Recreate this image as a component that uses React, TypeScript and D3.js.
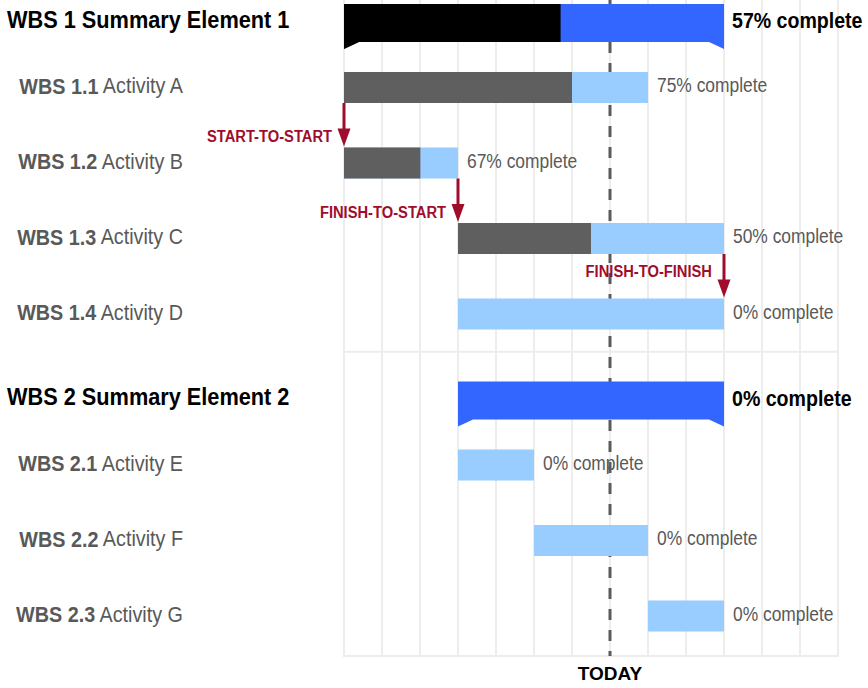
import * as d3 from 'd3';
import type { ReactNode } from 'react';

// rows, top to bottom
const wbsIds = ['WBS 1', 'WBS 1.1', 'WBS 1.2', 'WBS 1.3', 'WBS 1.4', 'WBS 2', 'WBS 2.1', 'WBS 2.2', 'WBS 2.3'];
const taskNames = ['Summary Element 1', 'Activity A', 'Activity B', 'Activity C', 'Activity D', 'Summary Element 2', 'Activity E', 'Activity F', 'Activity G'];
const isSummary = [true, false, false, false, false, true, false, false, false];
const startWeek = [0, 0, 0, 3, 3, 3, 3, 5, 8];
const endWeek = [10, 8, 3, 10, 10, 10, 5, 8, 10];
const pctComplete = [57, 75, 67, 50, 0, 0, 0, 0, 0];

const todayWeek = 7;
const gridWeeks = [0, 1, 2, 3, 4, 5, 6, 7, 8, 9, 10, 11, 12, 13];

// dependencies
const depFrom = ['WBS 1.1', 'WBS 1.2', 'WBS 1.3'];
const depTo = ['WBS 1.2', 'WBS 1.3', 'WBS 1.4'];
const depType = ['START-TO-START', 'FINISH-TO-START', 'FINISH-TO-FINISH'];

const W = 868;
const H = 688;
const FONT = '"Liberation Sans", Arial, sans-serif';

// narrow-ish text: the original uses a condensed grotesque
const CText = ({ x, y, sx = 0.88, anchor = 'start', size, bold, fill, children }: {
  x: number; y: number; sx?: number; anchor?: string; size: number; bold?: boolean; fill: string; children: ReactNode;
}) => (
  <text transform={`translate(${x},${y}) scale(${sx},1)`} textAnchor={anchor} dominantBaseline="central"
    fontSize={size} fontWeight={bold ? 'bold' : 'normal'} fill={fill}>
    {children}
  </text>
);

const App = () => {
  const x = d3.scaleLinear().domain([0, 13]).range([344, 838]);
  const y = d3.scalePoint<string>().domain(wbsIds).range([12, 616]);
  const bottom = (y('WBS 2.3') as number) + 40;
  const facetSplit = ((y('WBS 1.4') as number) + (y('WBS 2') as number)) / 2;

  const rows = wbsIds.map((id, i) => ({
    id,
    name: taskNames[i],
    summary: isSummary[i],
    start: startWeek[i],
    end: endWeek[i],
    pct: pctComplete[i],
    c: y(id) as number,
  }));
  const byId = new Map(rows.map(r => [r.id, r]));

  const barH = 31;
  const summaryShape = (x0: number, x1: number, c: number) => {
    const n = 15;
    return [
      [x0, c - 8], [x1, c - 8], [x1, c + 37], [x1 - n, c + 30], [x0 + n, c + 30], [x0, c + 37],
    ].map(p => p.join(',')).join(' ');
  };
  const clipId = (id: string) => `done-${id.replace(/\W/g, '')}`;

  return (
    <svg width={W} height={H} style={{ position: 'absolute', left: 0, top: 0, background: '#fff' }} fontFamily={FONT}>
      <defs>
        {rows.filter(r => r.summary).map(r => (
          <clipPath id={clipId(r.id)} key={r.id}>
            <rect x={x(r.start) - 1} y={r.c - 20} width={x(r.start + (r.end - r.start) * r.pct / 100) - x(r.start) + 1} height={70} />
          </clipPath>
        ))}
      </defs>

      {/* grid */}
      <g stroke="#ededed" strokeWidth={2}>
        {gridWeeks.map(w => (
          <line key={w} x1={x(w)} x2={x(w)} y1={0} y2={bottom} />
        ))}
        <line x1={x(0) - 1} x2={x(13) + 1} y1={facetSplit} y2={facetSplit} />
        <line x1={x(0) - 1} x2={x(13) + 1} y1={bottom} y2={bottom} />
      </g>

      {/* today */}
      <line x1={x(todayWeek)} x2={x(todayWeek)} y1={0} y2={bottom} stroke="#5b5b5b" strokeWidth={3} strokeDasharray="11 10" />
      <CText x={x(todayWeek)} y={673} anchor="middle" size={19} sx={1} bold fill="#000">TODAY</CText>

      {/* bars */}
      {rows.map(r => {
        const x0 = x(r.start);
        const x1 = x(r.end);
        const xp = x(r.start + (r.end - r.start) * r.pct / 100);
        if (r.summary) {
          const pts = summaryShape(x0, x1, r.c);
          return (
            <g key={r.id}>
              <polygon points={pts} fill="#3366ff" />
              {r.pct > 0 && <polygon points={pts} fill="#000" clipPath={`url(#${clipId(r.id)})`} />}
              <CText x={x1 + 8} y={r.c + 8} size={22.5} sx={0.87} bold fill="#000">{`${r.pct}% complete`}</CText>
              <CText x={7} y={r.c + 8} size={23} sx={0.945} bold fill="#000">{`${r.id} ${r.name}`}</CText>
            </g>
          );
        }
        return (
          <g key={r.id}>
            <rect x={x0} y={r.c - barH / 2} width={x1 - x0} height={barH} fill="#99ccff" />
            {r.pct > 0 && <rect x={x0} y={r.c - barH / 2} width={xp - x0} height={barH} fill="#5f5f5f" />}
            <CText x={x1 + 9} y={r.c - 2} size={20} sx={0.87} fill="#595959">{`${r.pct}% complete`}</CText>
            <CText x={183} y={r.c - 2} anchor="end" size={21.5} sx={0.92} fill="#595959">
              <tspan fontWeight="bold">{r.id}</tspan>{` ${r.name}`}
            </CText>
          </g>
        );
      })}

      {/* dependency arrows */}
      {depFrom.map((f, i) => {
        const a = byId.get(f)!;
        const b = byId.get(depTo[i])!;
        const type = depType[i];
        const xa = type.startsWith('START') ? x(a.start) : x(a.end);
        const y0 = a.c + barH / 2;
        const y1 = b.c - barH / 2 - 1;
        const head = 18;
        const ly = type === 'FINISH-TO-FINISH' ? y0 + 17 : y1 - 10;
        return (
          <g key={type} fill="#a00d2c">
            <line x1={xa} x2={xa} y1={y0} y2={y1 - head + 2} stroke="#a00d2c" strokeWidth={3} />
            <polygon points={`${xa - 6.5},${y1 - head} ${xa + 6.5},${y1 - head} ${xa},${y1}`} />
            <CText x={xa - 12} y={ly} anchor="end" size={16} sx={0.92} bold fill="#a00d2c">{type}</CText>
          </g>
        );
      })}
    </svg>
  );
};

export default App;
